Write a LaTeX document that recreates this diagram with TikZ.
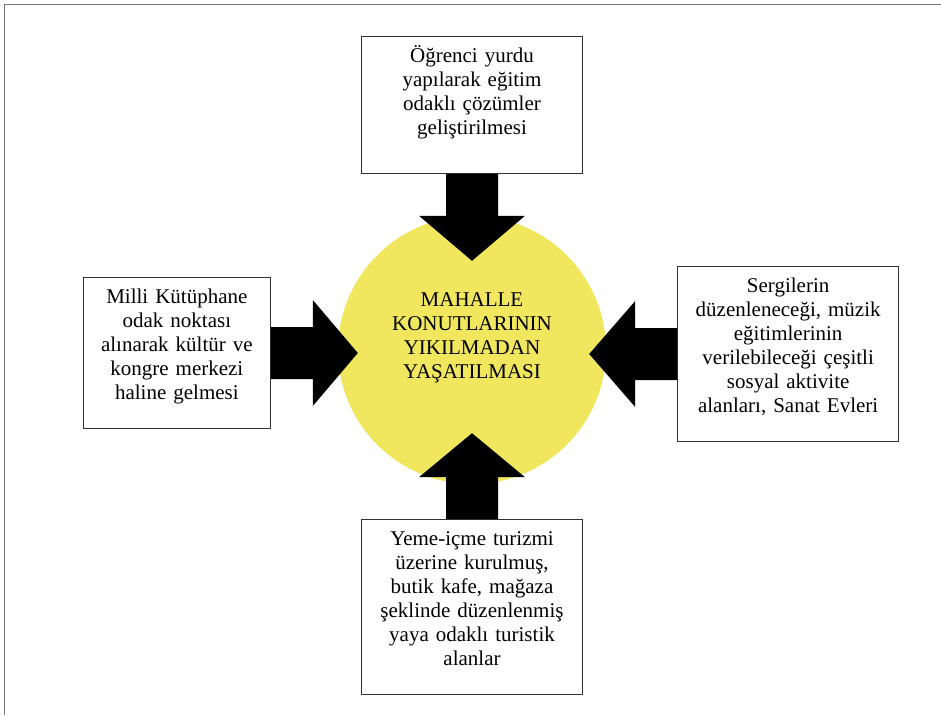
\documentclass[tikz,border=0pt]{standalone}
\usepackage{fontspec}
\setmainfont{Liberation Serif}
\usetikzlibrary{calc}
\usetikzlibrary{positioning}

\definecolor{merkezsari}{RGB}{241,231,94}
\definecolor{cercevegri}{RGB}{120,120,120}

\begin{document}
\begin{tikzpicture}[x=1pt, y=-1pt]

\useasboundingbox (0,0) rectangle (941,715);

\pgfmathsetmacro{\SW}{26}
\pgfmathsetmacro{\HW}{53}
\pgfmathsetmacro{\SL}{42}

\tikzset{
    kutu/.style={draw=black!80, line width=0.9pt, inner xsep=4pt, inner ysep=10pt,
        align=center, text height=16pt, font=\fontsize{21}{24}\selectfont},
    blockarrow/.style={fill=black, to path={
        ($(\tikztostart)!\SW pt!90:(\tikztotarget)$)
        -- ($($(\tikztostart)!\SL pt!(\tikztotarget)$)!\SW pt!90:(\tikztotarget)$)
        -- ($($(\tikztostart)!\SL pt!(\tikztotarget)$)!\HW pt!90:(\tikztotarget)$)
        -- (\tikztotarget)
        -- ($($(\tikztostart)!\SL pt!(\tikztotarget)$)!\HW pt!-90:(\tikztotarget)$)
        -- ($($(\tikztostart)!\SL pt!(\tikztotarget)$)!\SW pt!-90:(\tikztotarget)$)
        -- ($(\tikztostart)!\SW pt!-90:(\tikztotarget)$)
        -- cycle}}
}

%frame
\draw[cercevegri, line width=1pt] (4,715) -- (4,4) -- (941,4);

%center circle
\node[circle, fill=merkezsari, minimum size=268pt, inner sep=0pt, text width=180pt,
      align=center, text height=16pt, text depth=103pt,
      font=\fontsize{21}{24}\selectfont] (merkez) at (472,350)
      {MAHALLE\\KONUTLARININ\\YIKILMADAN\\YAŞATILMASI};

%top
\node[kutu, text width=213pt, text depth=101pt, above=42pt of merkez] (yurt)
      {Öğrenci yurdu\\yapılarak eğitim\\odaklı çözümler\\geliştirilmesi};
\coordinate[below=87pt of yurt.south] (ucT);

%left
\node[kutu, text width=179pt, text depth=115pt, left=67pt of merkez, yshift=-3pt] (kutuphane)
      {Milli Kütüphane\\odak noktası\\alınarak kültür ve\\kongre merkezi\\haline gelmesi};
\coordinate[right=87pt of kutuphane.east] (ucL);

%right
\node[kutu, text width=213pt, text depth=139pt, right=71pt of merkez, yshift=-4pt] (sanat)
      {Sergilerin\\düzenleneceği, müzik\\eğitimlerinin\\verilebileceği çeşitli\\sosyal aktivite\\alanları, Sanat Evleri};
\coordinate[left=88pt of sanat.west] (ucR);

%bottom
\node[kutu, text width=213pt, text depth=139pt, below=35pt of merkez] (turizm)
      {Yeme-içme turizmi\\üzerine kurulmuş,\\butik kafe, mağaza\\şeklinde düzenlenmiş\\yaya odaklı turistik\\alanlar};
\coordinate[above=86pt of turizm.north] (ucB);

%arrows
\path[blockarrow] (yurt.south) to (ucT);
\path[blockarrow] (kutuphane.east) to (ucL);
\path[blockarrow] (sanat.west) to (ucR);
\path[blockarrow] (turizm.north) to (ucB);

\end{tikzpicture}
\end{document}
